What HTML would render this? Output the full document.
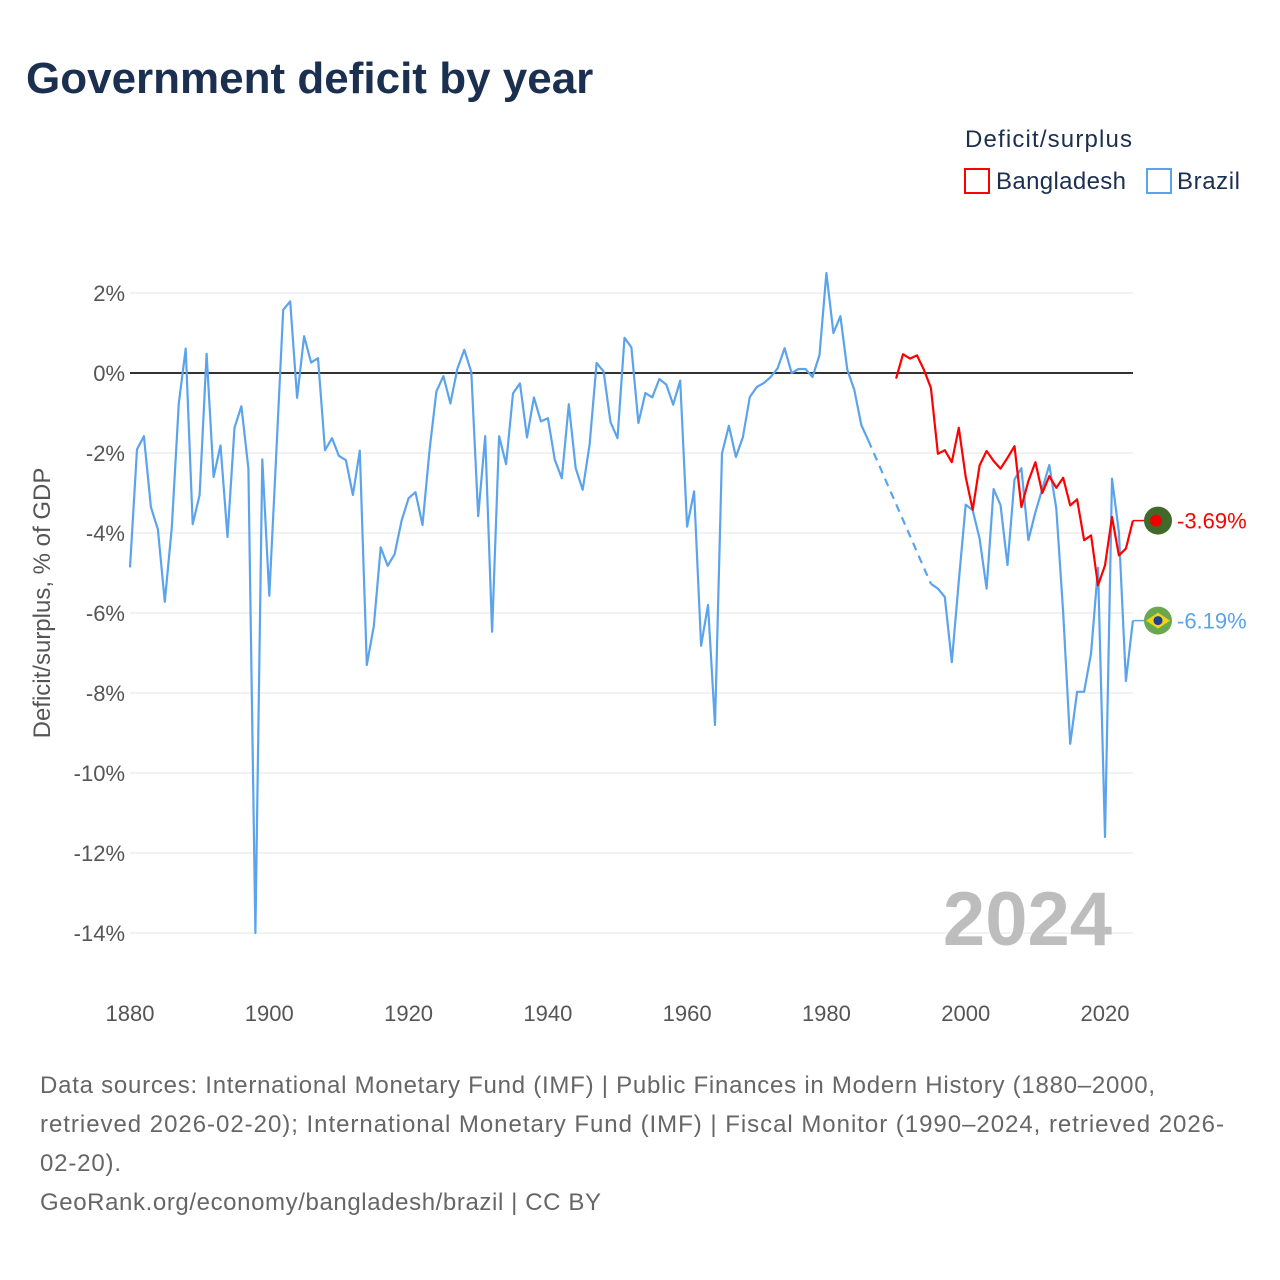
<!DOCTYPE html>
<html><head><meta charset="utf-8">
<style>
body{margin:0;background:#fff;font-family:"Liberation Sans",sans-serif;}
#wrap{position:relative;width:1280px;height:1280px;overflow:hidden;}
</style></head>
<body>
<div id="wrap">
<svg id="chart" width="1280" height="1280" style="position:absolute;left:0;top:0">
<text x="26" y="93" font-size="44" font-weight="bold" fill="#1b2f50">Government deficit by year</text>
<text x="965" y="147" font-size="24" fill="#1b2f50" textLength="167">Deficit/surplus</text>
<g><rect x="965" y="169" width="24" height="24" fill="none" stroke="#f00" stroke-width="2"/><text x="996" y="189" font-size="24" fill="#1b2f50" textLength="130">Bangladesh</text></g>
<g><rect x="1147" y="169" width="24" height="24" fill="none" stroke="#5ba4eb" stroke-width="2"/><text x="1177" y="189" font-size="24" fill="#1b2f50" textLength="63">Brazil</text></g>
<text transform="translate(50,603) rotate(-90)" text-anchor="middle" font-size="24" fill="#555">Deficit/surplus, % of GDP</text>
<g id="grid"></g><g id="series"></g>
<text x="1112" y="945" text-anchor="end" font-size="76" font-weight="bold" fill="#bdbdbd">2024</text>
<g font-size="24" fill="#666">
<text x="40" y="1093" textLength="1115">Data sources: International Monetary Fund (IMF) | Public Finances in Modern History (1880–2000,</text>
<text x="40" y="1132" textLength="1184">retrieved 2026-02-20); International Monetary Fund (IMF) | Fiscal Monitor (1990–2024, retrieved 2026-</text>
<text x="40" y="1171" textLength="81">02-20).</text>
<text x="40" y="1210" textLength="561">GeoRank.org/economy/bangladesh/brazil | CC BY</text>
</g>
</svg>
</div>
<script>
const yTicks=[2,0,-2,-4,-6,-8,-10,-12,-14];
const xTicks=[1880,1900,1920,1940,1960,1980,2000,2020];
const brazilStart=1880;
const brazilA=[-4.86,-1.91,-1.58,-3.35,-3.91,-5.72,-3.86,-0.76,0.61,-3.78,-3.05,0.48,-2.6,-1.81,-4.1,-1.37,-0.83,-2.39,-14,-2.16,-5.57,-2.0,1.58,1.79,-0.62,0.92,0.26,0.37,-1.93,-1.63,-2.07,-2.18,-3.05,-1.94,-7.3,-6.33,-4.36,-4.82,-4.53,-3.69,-3.13,-2.98,-3.8,-1.94,-0.46,-0.08,-0.76,0.1,0.58,0.02,-3.58,-1.58,-6.47,-1.58,-2.28,-0.51,-0.26,-1.61,-0.61,-1.21,-1.13,-2.17,-2.63,-0.78,-2.38,-2.92,-1.79,0.25,0.04,-1.23,-1.63,0.88,0.64,-1.25,-0.5,-0.61,-0.15,-0.29,-0.79,-0.19,-3.84,-2.96,-6.82,-5.8,-8.8,-2.01,-1.32,-2.1,-1.6,-0.6,-0.35,-0.25,-0.1,0.12,0.62,0,0.1,0.1,-0.1,0.45,2.5,1.0,1.42,0.08,-0.42,-1.3,-1.68];
const brazilBStart=1995;
const brazilB=[-5.27,-5.39,-5.6,-7.23,-5.2,-3.29,-3.43,-4.14,-5.39,-2.9,-3.3,-4.8,-2.66,-2.38,-4.18,-3.48,-2.9,-2.3,-3.39,-6.0,-9.27,-7.97,-7.97,-7.0,-4.87,-11.6,-2.64,-3.98,-7.7,-6.19];
const bdStart=1990;
const bd=[-0.14,0.47,0.36,0.44,0.08,-0.37,-2.02,-1.93,-2.23,-1.37,-2.6,-3.42,-2.31,-1.95,-2.2,-2.39,-2.12,-1.83,-3.35,-2.7,-2.23,-3.0,-2.58,-2.87,-2.62,-3.31,-3.16,-4.18,-4.06,-5.31,-4.81,-3.6,-4.56,-4.39,-3.69];
const NS='http://www.w3.org/2000/svg';
const X=y=>130+(y-1880)*(975/140);
const Y=v=>373-v*40;
const grid=document.getElementById('grid'),ser=document.getElementById('series');
function mk(tag,at,parent){const e=document.createElementNS(NS,tag);for(const k in at)e.setAttribute(k,at[k]);parent.appendChild(e);return e;}
yTicks.forEach(v=>{
  const l=mk('line',{x1:130,x2:1133,y1:Y(v),y2:Y(v),stroke:v===0?'#333':'#e6e6e6','stroke-width':v===0?2:1},grid);
  
  
  const t=mk('text',{x:125,y:Y(v)+8,'text-anchor':'end','font-size':22,fill:'#555'},grid);
  t.textContent=v+'%';
  
  
});
xTicks.forEach(yr=>{
  const t=mk('text',{x:X(yr),y:1021,'text-anchor':'middle','font-size':22,fill:'#555'},grid);
  t.textContent=yr;
  
  
});
function pts(start,arr){return arr.map((v,i)=>X(start+i).toFixed(1)+','+Y(v).toFixed(1)).join(' ');}
let p=mk('polyline',{points:pts(brazilStart,brazilA),fill:'none',stroke:'#5ba4eb','stroke-width':2.2,'stroke-linejoin':'round'},ser);


const lastA=brazilStart+brazilA.length-1;
p=mk('line',{x1:X(lastA),y1:Y(brazilA[brazilA.length-1]),x2:X(brazilBStart),y2:Y(brazilB[0]),stroke:'#5ba4eb','stroke-width':2.2,'stroke-dasharray':'8 6'},ser);


p=mk('polyline',{points:pts(brazilBStart,brazilB),fill:'none',stroke:'#5ba4eb','stroke-width':2.2,'stroke-linejoin':'round'},ser);


p=mk('polyline',{points:pts(bdStart,bd),fill:'none',stroke:'#f00','stroke-width':2.2,'stroke-linejoin':'round'},ser);


function endLabel(val,color,name,flag){
  const x0=X(2024),y0=Y(val);
  const l=mk('line',{x1:x0,y1:y0,x2:1145,y2:y0,stroke:color,'stroke-width':1.5},ser);
  
  
  const g=mk('g',{},ser);
  
  
  if(flag==='bd'){mk('circle',{cx:1158,cy:y0,r:14,fill:'#3f6a2a'},g);mk('circle',{cx:1156,cy:y0,r:6,fill:'#e00'},g);}
  else{mk('circle',{cx:1158,cy:y0,r:14,fill:'#6aa84f'},g);mk('polygon',{points:`1146,${y0} 1158,${y0-8} 1170,${y0} 1158,${y0+8}`,fill:'#f2d21b'},g);mk('circle',{cx:1158,cy:y0,r:4.5,fill:'#1f3f8f'},g);}
  const t=mk('text',{x:1177,y:y0+8,'font-size':22,fill:color},ser);
  t.textContent=val.toFixed(2)+'%';
  
  
}
endLabel(bd[bd.length-1],'#f00','bangladesh','bd');
endLabel(brazilB[brazilB.length-1],'#5ba4eb','brazil','br');
</script>
</body></html>
